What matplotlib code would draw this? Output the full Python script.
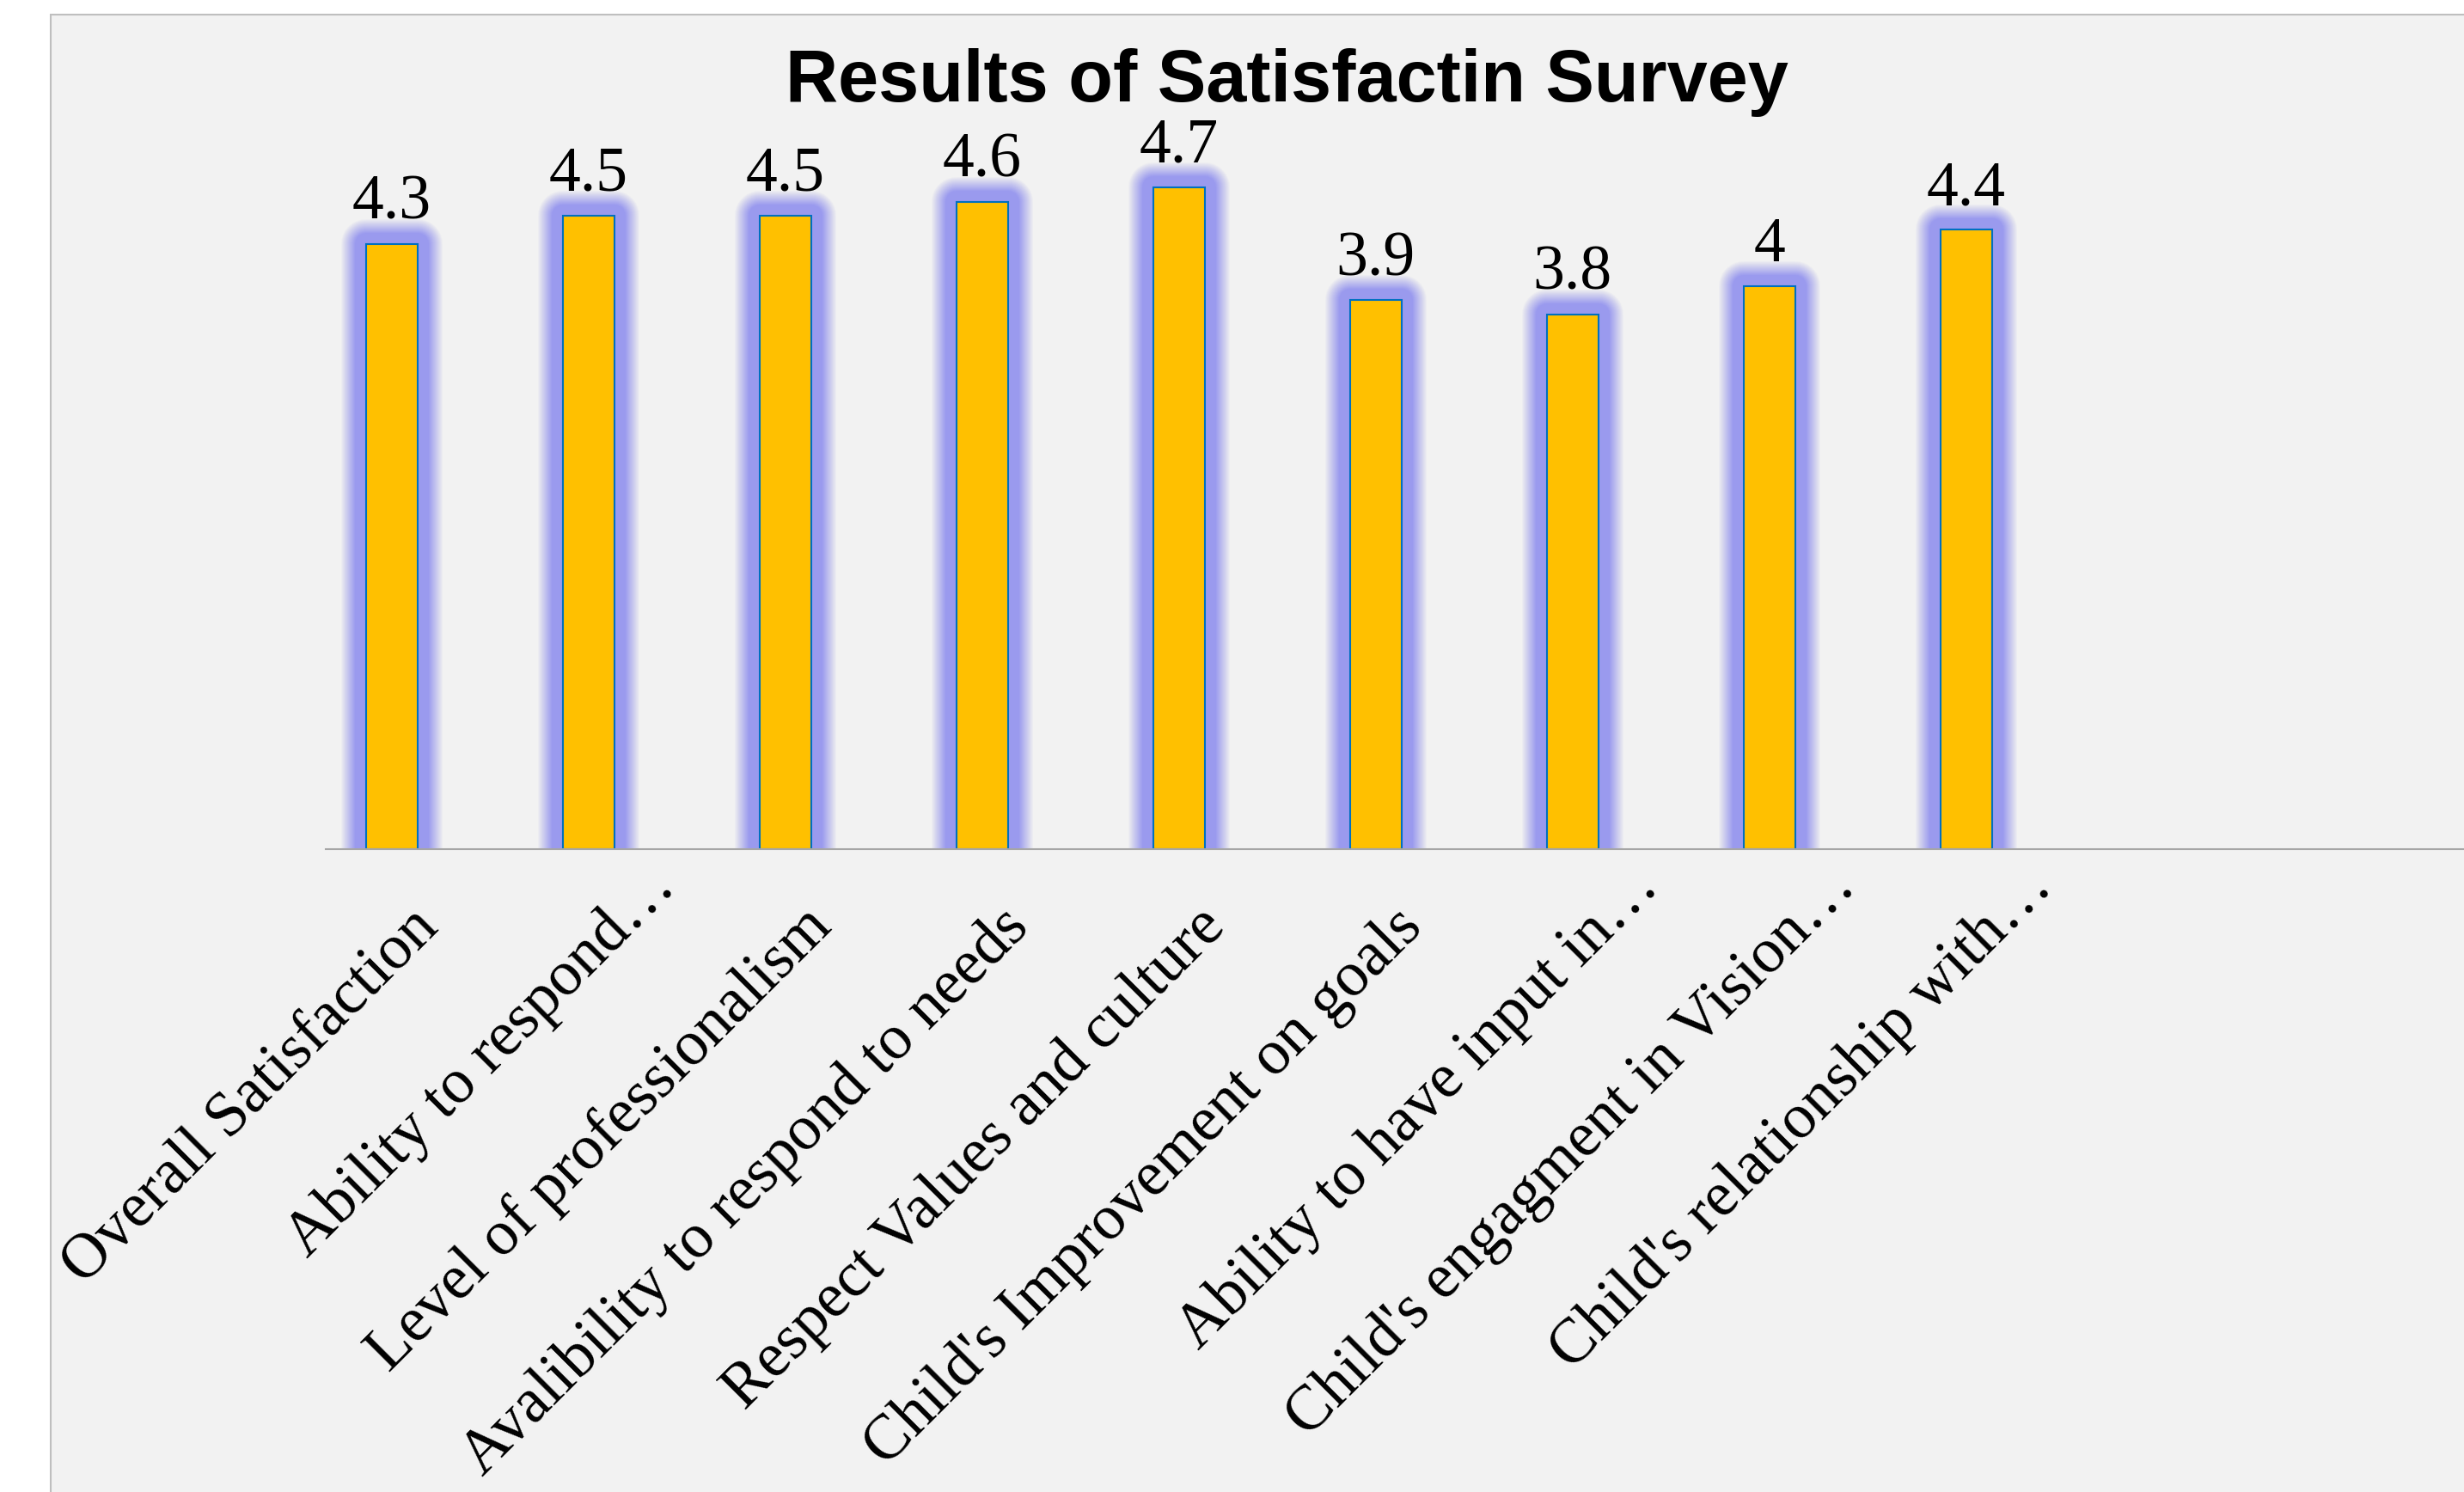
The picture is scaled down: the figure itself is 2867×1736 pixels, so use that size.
import matplotlib
matplotlib.use("Agg")
import matplotlib.pyplot as plt
from matplotlib import patheffects as pe
from matplotlib.patches import Rectangle

# survey data
categories = [
    "Overall Satisfaction",
    "Ability to respond\u2026",
    "Level of professionalism",
    "Avalibility to respond to needs",
    "Respect Values and culture",
    "Child's Improvement on goals",
    "Ability to have input in\u2026",
    "Child's engagment in Vision\u2026",
    "Child's relationship with\u2026",
]
scores = [4.3, 4.5, 4.5, 4.6, 4.7, 3.9, 3.8, 4, 4.4]
title = "Results of Satisfactin Survey"

W, H = 2867, 1736
PX = 72 / 100  # points per pixel at dpi 100
serif = "Liberation Serif"
fs = 53

fig = plt.figure(figsize=(W / 100, H / 100), dpi=100, facecolor="white")

# grey chart panel (behind everything)
fig.patches.append(Rectangle((59 / W, -0.01), 1.0, 1 - 17 / H + 0.01,
                             transform=fig.transFigure, facecolor="#F2F2F2",
                             edgecolor="#BFBFBF", lw=1.5, zorder=-10))

# axes placed so that baseline sits at y=988px, left edge at x=379px
ax = fig.add_axes([379 / W, (H - 988) / H, (W - 379) / W, 819 / H])
ax.set_zorder(1)
ax.set_facecolor("none")
ax.set_xlim(-0.336, 10.53)
ax.set_ylim(0, 5)
for s in ["top", "left", "right"]:
    ax.spines[s].set_visible(False)
ax.spines["bottom"].set_color("#A6A6A6")
ax.spines["bottom"].set_linewidth(1.5)
ax.set_xticks([])
ax.set_yticks([])

# soft blue glow: stacked strokes, opaque near the bar, fading outwards
glow = []
outer, inner, peak = 29, 13, 0.92
prev = 0.0
for e in range(outer, inner - 1, -1):
    target = peak * (outer - e + 1) / (outer - inner + 1)
    a = 1 - (1 - target) / (1 - prev)
    prev = target
    glow.append(pe.Stroke(linewidth=2 * e * PX, foreground="#9494EE", alpha=a,
                          joinstyle="round"))
glow.append(pe.Normal())

x = list(range(len(categories)))
bars = ax.bar(x, scores, width=0.262, color="#FFC000", edgecolor="#0070C0",
              linewidth=1.5)
for b in bars:
    b.set_path_effects(glow)

for i, v in enumerate(scores):
    ax.annotate(f"{v:g}", xy=(i, v), xytext=(0, 21), textcoords="offset points",
                ha="center", va="baseline", fontsize=fs, family=serif)

# rotated category labels
for i, lab in enumerate(categories):
    dx, dy = 56 * PX, -93 * PX
    if lab.endswith("\u2026"):
        dx += 0.707 * fs * 0.9
        dy += 0.707 * fs * 0.9
    ax.annotate(lab, xy=(i, 0), xytext=(dx, dy), textcoords="offset points",
                rotation=45, rotation_mode="anchor", ha="right", va="baseline",
                fontsize=fs, family=serif, annotation_clip=False)

fig.text(1497 / W, 1 - 118 / H, title, ha="center", va="baseline",
         fontsize=61, fontweight="bold", family="Liberation Sans")

fig.savefig("out.png", dpi=100)
